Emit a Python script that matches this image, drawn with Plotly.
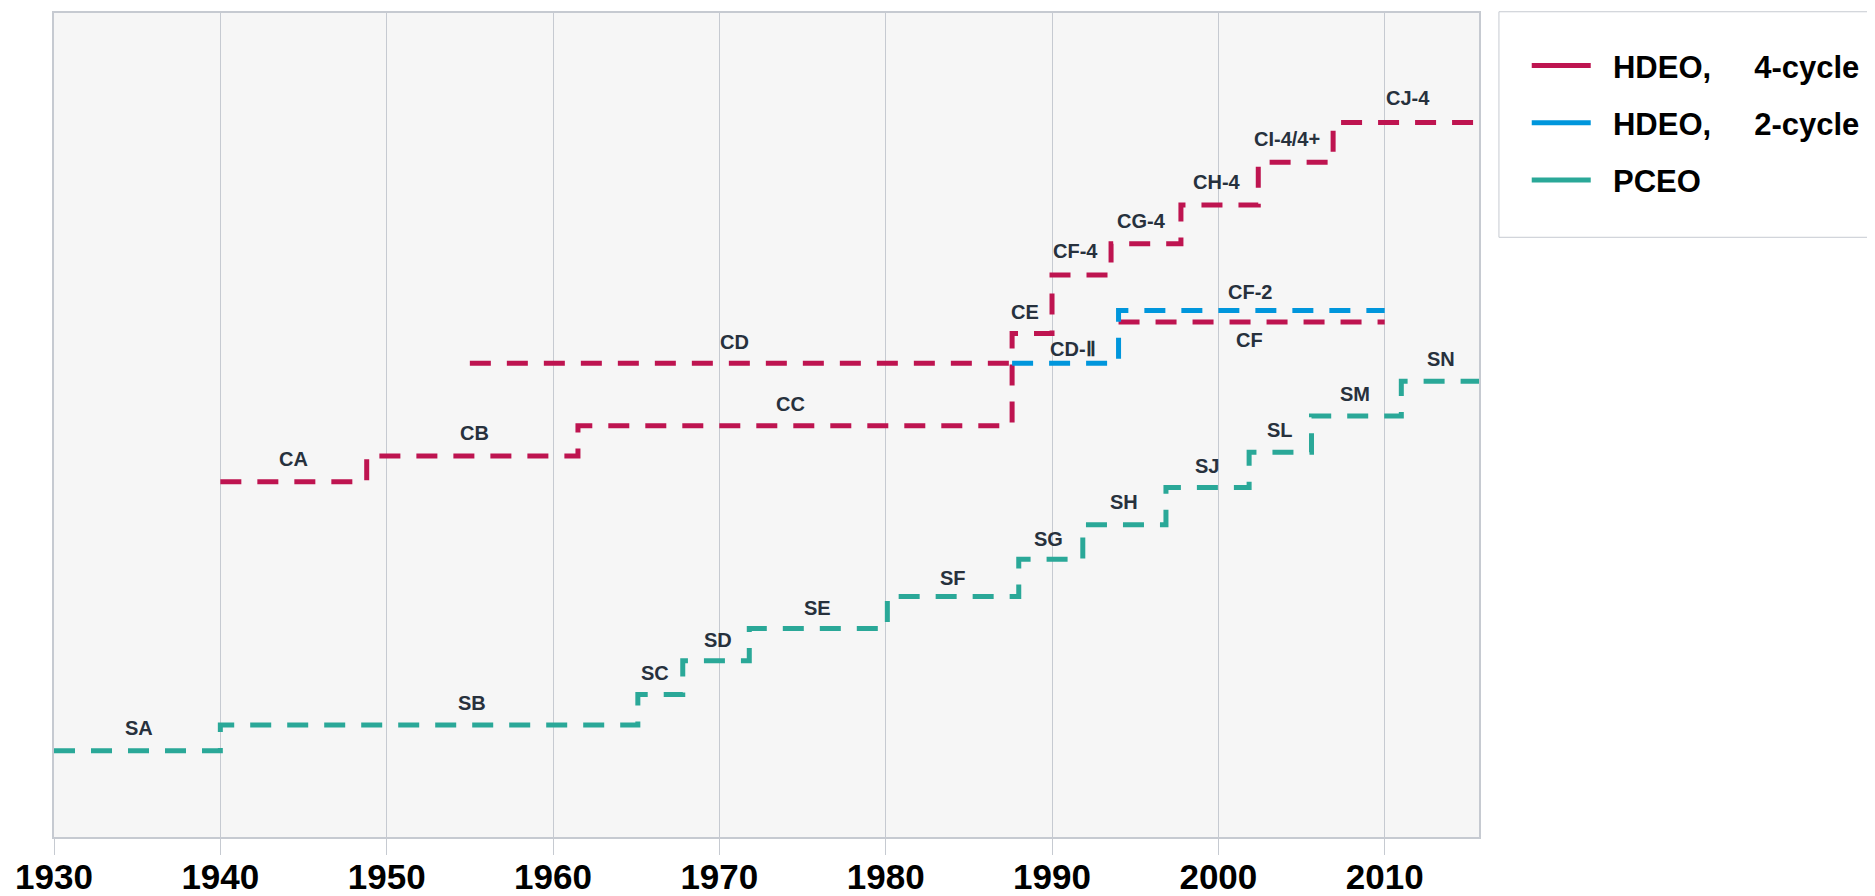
import plotly.graph_objects as go

# ---- data (x = year a specification starts; level = relative position on chart) ----
hdeo4_years = [1940, 1948.8, 1961.5, 1987.6, 1990.0, 1993.55, 1997.75, 2002.4, 2006.9, 2015.7]
hdeo4_levels = [43.1, 46.25, 49.9, 61.1, 68.2, 72.0, 76.7, 81.9, 86.7, 86.7]

cd_years = [1955, 1987.6]
cd_levels = [57.5, 57.5]

cf_years = [1994, 2010]
cf_levels = [62.5, 62.5]

hdeo2_years = [1987.6, 1994, 2010]
hdeo2_levels = [57.5, 63.9, 63.9]

pceo_years = [1930, 1940, 1965.1, 1967.8, 1971.8, 1980.1, 1988.0, 1991.85, 1996.85,
              2001.85, 2005.6, 2011.0, 2015.7]
pceo_levels = [10.47, 13.6, 17.3, 21.4, 25.3, 29.2, 33.7, 37.9, 42.4, 46.7, 51.1, 55.3, 55.3]

label_texts = ["SA", "SB", "SC", "SD", "SE", "SF", "SG", "SH", "SJ", "SL", "SM", "SN",
               "CA", "CB", "CC", "CD", "CE", "CD-Ⅱ", "CF-4", "CG-4", "CH-4", "CI-4/4+",
               "CJ-4", "CF-2", "CF"]
label_x = [1935.1, 1955.1, 1966.15, 1969.9, 1975.9, 1984.07, 1989.8, 1994.3, 1999.3,
           2003.7, 2008.2, 2013.4,
           1944.4, 1955.26, 1974.3, 1970.9, 1988.4, 1991.25, 1991.4, 1995.4, 1999.9,
           2004.1, 2011.4, 2001.9, 2001.9]
label_y = [13.18, 16.22, 19.88, 23.86, 27.79, 31.45, 36.11, 40.68, 45.08, 49.42, 53.8, 58.0,
           45.83, 49.09, 52.54, 60.04, 63.74, 59.27, 71.12, 74.77, 79.52, 84.71, 89.70,
           66.13, 60.29]

series_names = ["\u00a0\u00a0HDEO,\u00a0\u00a0\u00a0\u00a0\u00a04-cycle",
                "\u00a0\u00a0HDEO,\u00a0\u00a0\u00a0\u00a0\u00a02-cycle",
                "\u00a0\u00a0PCEO"]

x_range = [1930, 2015.67]
y_range = [0, 100]

# ---- styles ----
RED = "#be1450"
BLUE = "#0096dc"
TEAL = "#2aa898"
DASH = "21px,16px"
LW = 5
FONT = "Liberation Sans, Arial, sans-serif"
GRID = "#c6cad1"

fig = go.Figure()

def step(x, y, color, group, shape="hv"):
    fig.add_trace(go.Scatter(x=x, y=y, mode="lines", line_shape=shape, showlegend=False,
                             legendgroup=group, hoverinfo="skip",
                             line=dict(color=color, width=LW, dash=DASH)))

step(hdeo4_years, hdeo4_levels, RED, "g1")
step(cd_years, cd_levels, RED, "g1")
step(cf_years, cf_levels, RED, "g1")
step(hdeo2_years, hdeo2_levels, BLUE, "g2")
step(pceo_years, pceo_levels, TEAL, "g3")

# legend entries (solid swatches like the reference)
for name, color, group in zip(series_names, [RED, BLUE, TEAL], ["g1", "g2", "g3"]):
    fig.add_trace(go.Scatter(x=[None], y=[None], mode="lines", name=name, legendgroup=group,
                             line=dict(color=color, width=LW)))

for t, x, y in zip(label_texts, label_x, label_y):
    fig.add_annotation(x=x, y=y, text=t, showarrow=False, xanchor="center", yanchor="middle",
                       font=dict(family=FONT, size=20, color="#27313d", weight="bold"))

# legend frame
fig.add_shape(type="rect", xref="paper", yref="paper", x0=1.014, x1=1.30, y0=0.7278, y1=1.0015,
              line=dict(color=GRID, width=1), fillcolor="white", layer="below")

fig.update_layout(
    width=1867, height=888,
    margin=dict(l=46, r=396, t=5, b=59, autoexpand=False),
    paper_bgcolor="white", plot_bgcolor="#f6f6f6",
    showlegend=True,
    legend=dict(x=1.0335, xanchor="left", y=0.9687, yanchor="top",
                borderwidth=0, bgcolor="rgba(0,0,0,0)",
                font=dict(family=FONT, size=31, color="black", weight="bold"),
                tracegroupgap=14, traceorder="grouped", itemwidth=59),
    xaxis=dict(range=x_range, tick0=1930, dtick=10, showgrid=True, gridcolor=GRID, gridwidth=1,
               ticks="outside", ticklen=16, tickcolor=GRID, showline=True, mirror=True,
               linecolor=GRID, linewidth=2, zeroline=False, ticklabelstandoff=-8,
               tickfont=dict(family=FONT, size=35, color="black", weight="bold")),
    yaxis=dict(range=y_range, showticklabels=False, showgrid=False, zeroline=False,
               showline=True, mirror=True, linecolor=GRID, linewidth=2, ticks=""),
)

fig.write_html("out.html")
